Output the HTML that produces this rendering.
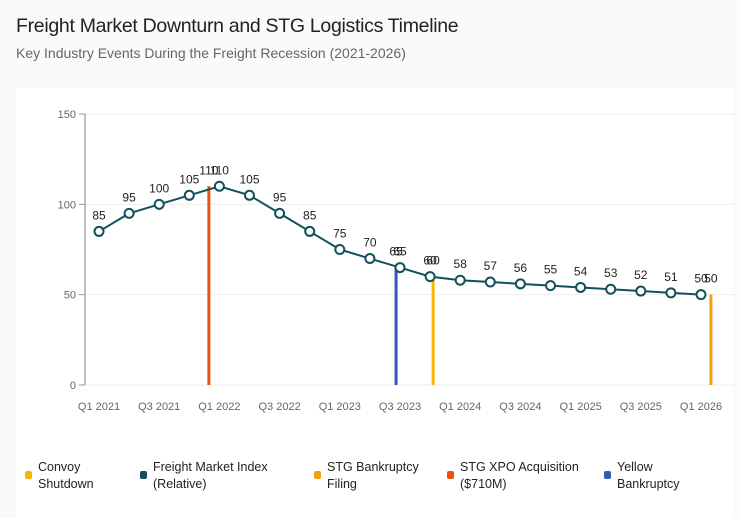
<!DOCTYPE html>
<html><head><meta charset="utf-8"><style>
body{margin:0;width:740px;height:507px;background:#fafafa;font-family:"Liberation Sans",sans-serif;overflow:hidden;position:relative}
#title{position:absolute;left:16px;top:15px;font-size:19.5px;color:#222;letter-spacing:-0.3px}
#sub{position:absolute;left:16px;top:45px;font-size:14px;color:#666}
#card{position:absolute;left:16px;top:88px;width:717px;height:430px;background:#fff}
.leg{position:absolute;top:459px;font-size:12.5px;color:#222;line-height:17px}
.sw{position:absolute;width:7px;height:8px;border-radius:2px;top:12px}
</style></head><body>
<div id="title">Freight Market Downturn and STG Logistics Timeline</div>
<div id="sub">Key Industry Events During the Freight Recession (2021-2026)</div>
<div id="card"></div>
<svg id="chart" width="740" height="507" style="position:absolute;left:0;top:0"></svg>
<div class="leg" style="left:38px"><span class="sw" style="left:-13px;background:#f5b800"></span>Convoy<br>Shutdown</div>
<div class="leg" style="left:153px"><span class="sw" style="left:-13px;background:#13505b"></span>Freight Market Index<br>(Relative)</div>
<div class="leg" style="left:327px"><span class="sw" style="left:-13px;background:#f59e0b"></span>STG Bankruptcy<br>Filing</div>
<div class="leg" style="left:460px"><span class="sw" style="left:-13px;background:#f04e0e"></span>STG XPO Acquisition<br>($710M)</div>
<div class="leg" style="left:617px"><span class="sw" style="left:-13px;background:#2d5db5"></span>Yellow<br>Bankruptcy</div>
<script>
const categories=["Q1 2021","Q2 2021","Q3 2021","Q4 2021","Q1 2022","Q2 2022","Q3 2022","Q4 2022","Q1 2023","Q2 2023","Q3 2023","Q4 2023","Q1 2024","Q2 2024","Q3 2024","Q4 2024","Q1 2025","Q2 2025","Q3 2025","Q4 2025","Q1 2026"];
const indexValues=[85,95,100,105,110,105,95,85,75,70,65,60,58,57,56,55,54,53,52,51,50];
const eventNames=["STG XPO Acquisition","Yellow Bankruptcy","Convoy Shutdown","STG Bankruptcy Filing"];
const eventPos=[3.65,9.87,11.1,20.33];
const eventValues=[110,65,60,50];
const eventColors=["#f04e0e","#2d5db5","#f5b800","#f59e0b"];
const yTicks=[0,50,100,150];
const svg=document.getElementById('chart');const NS='http://www.w3.org/2000/svg';
const x=i=>99+i*30.1;const y=v=>385-v*271/150;
function mk(t,a,txt){const e=document.createElementNS(NS,t);for(const k in a)e.setAttribute(k,a[k]);if(txt!==undefined)e.textContent=txt;svg.appendChild(e);return e;}
yTicks.forEach(t=>{
const g=mk('line',{x1:85,x2:735,y1:y(t),y2:y(t),stroke:'#eee'});


mk('line',{x1:79,x2:85,y1:y(t),y2:y(t),stroke:'#999'});
const l=mk('text',{x:76,y:y(t)+4,'text-anchor':'end','font-size':11,fill:'#666'},t);


});
const ax=mk('line',{x1:85,x2:85,y1:y(150),y2:y(0),stroke:'#aaa','stroke-width':1.5});


categories.forEach((c,i)=>{if(i%2)return;
const l=mk('text',{x:x(i),y:410,'text-anchor':'middle','font-size':11,fill:'#666'},c);

});
eventPos.forEach((p,i)=>{
const b=mk('line',{x1:x(p),x2:x(p),y1:y(eventValues[i]),y2:y(0),stroke:eventColors[i],'stroke-width':3});


const l=mk('text',{x:x(p),y:y(eventValues[i])-12,'text-anchor':'middle','font-size':12,fill:'#222'},eventValues[i]);


});
let d='';indexValues.forEach((v,i)=>{d+=(i?'L':'M')+x(i)+','+y(v);});
const ln=mk('path',{d:d,fill:'none',stroke:'#13505b','stroke-width':2});


indexValues.forEach((v,i)=>{
const c=mk('circle',{cx:x(i),cy:y(v),r:4.5,fill:'#fff',stroke:'#13505b','stroke-width':2});


const l=mk('text',{x:x(i),y:y(v)-12,'text-anchor':'middle','font-size':12,fill:'#222'},v);


});
</script>
</body></html>
